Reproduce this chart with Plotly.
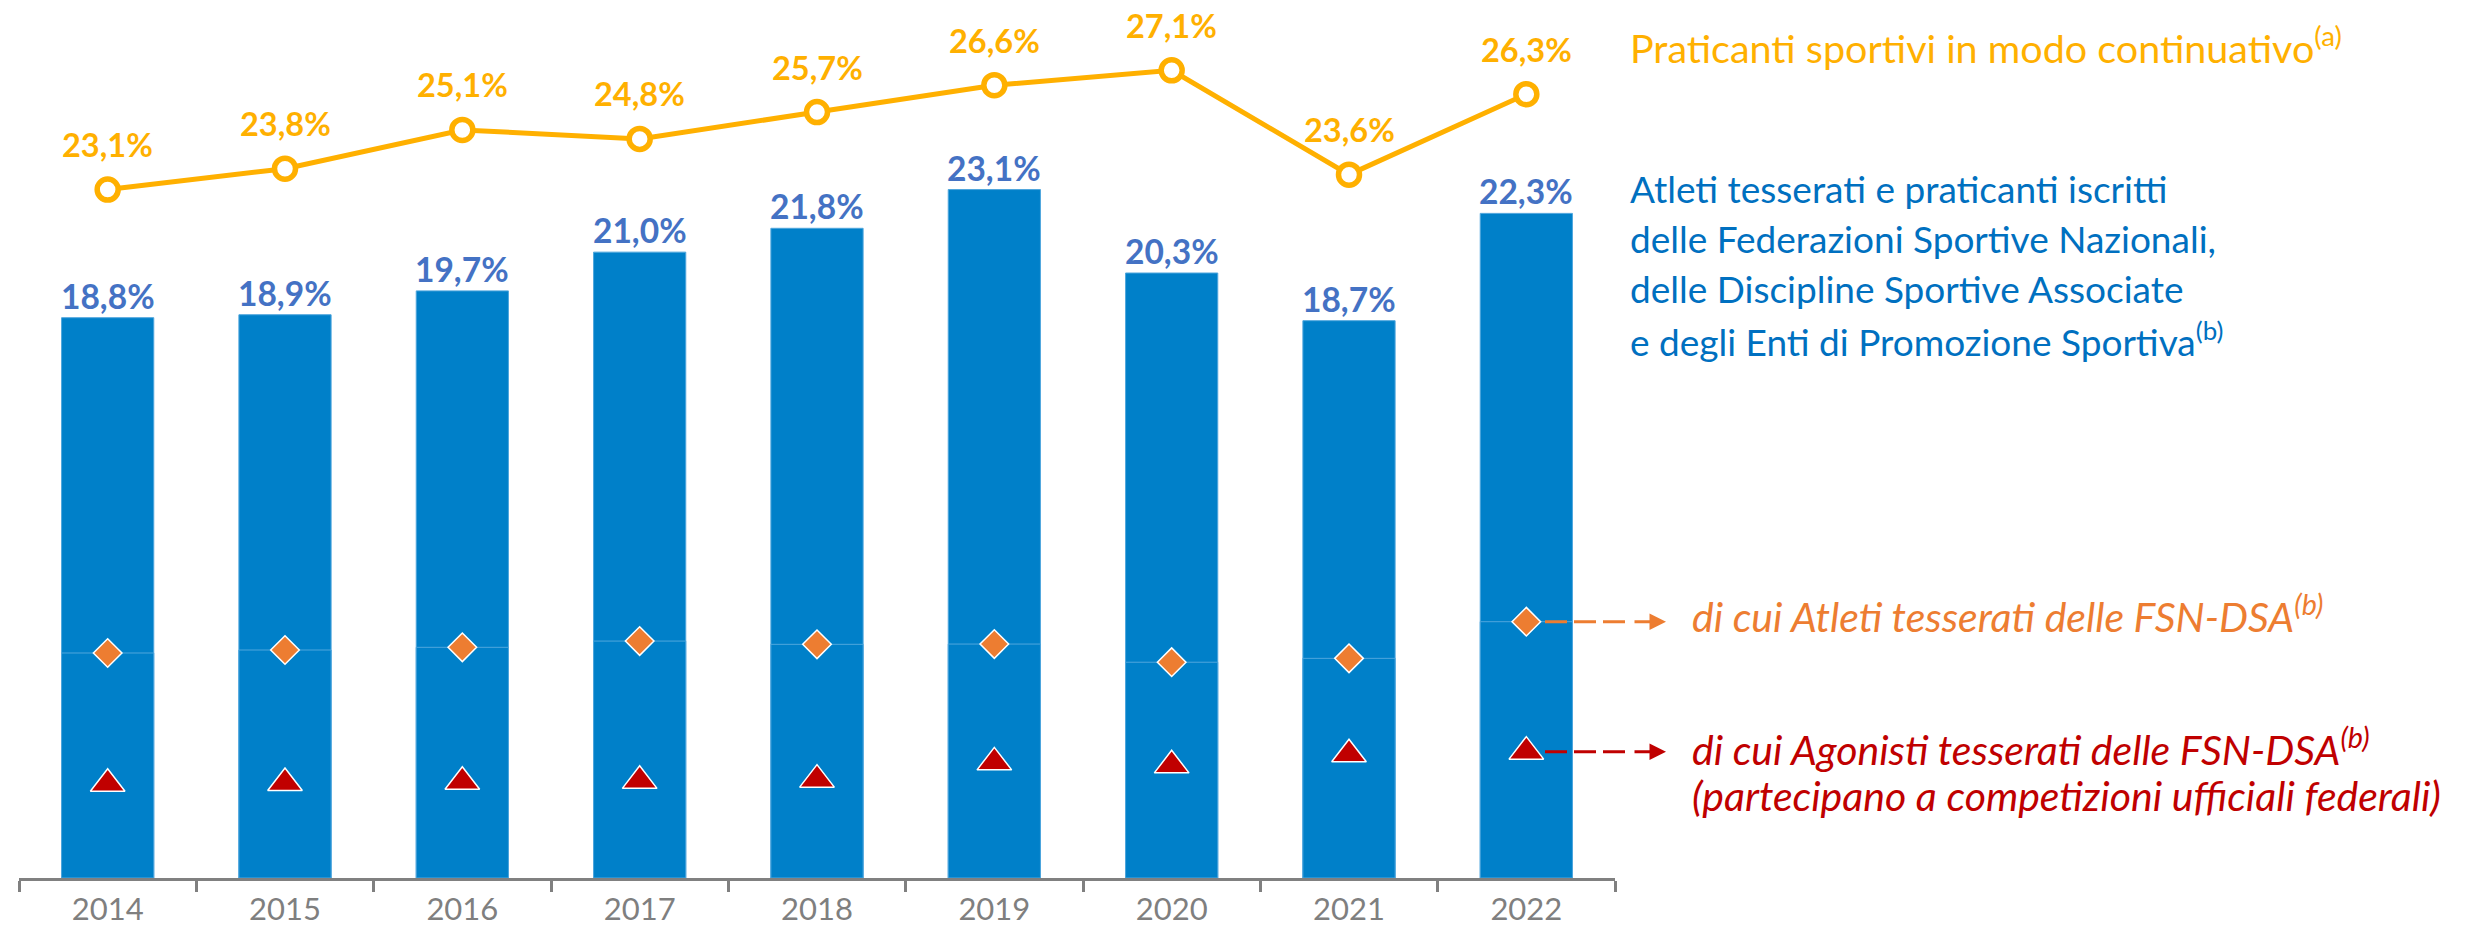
import plotly.graph_objects as go

# ---- data (percent values) ----
years = ["2014", "2015", "2016", "2017", "2018", "2019", "2020", "2021", "2022"]
praticanti_continuativi = [23.1, 23.8, 25.1, 24.8, 25.7, 26.6, 27.1, 23.6, 26.3]
tesserati_totali = [18.8, 18.9, 19.7, 21.0, 21.8, 23.1, 20.3, 18.7, 22.3]
atleti_fsn_dsa = [7.55, 7.65, 7.74, 7.95, 7.84, 7.85, 7.24, 7.37, 8.60]
agonisti_fsn_dsa = [3.16, 3.19, 3.23, 3.26, 3.30, 3.88, 3.78, 4.15, 4.24]

# ---- page geometry ----
W, H = 2468, 929
M_L, M_R, M_T, M_B = 19, 853, 0, 51
PLOT_W = W - M_L - M_R
PLOT_H = H - M_T - M_B
Y_MAX = 29.46

# ---- palette ----
BAR = "#0080C9"
BAR_EDGE = "#4FA6DD"
GOLD = "#FFB000"
BAR_LABEL = "#4472C4"
LEGEND_BLUE = "#0070C0"
ORANGE = "#ED7D31"
RED = "#C00000"
GREY = "#808080"
FONT = "Lato"


def px_x(p):
    """Horizontal page pixel -> paper fraction."""
    return (p - M_L) / PLOT_W


def px_y(p):
    """Vertical page pixel -> paper fraction."""
    return (M_T + PLOT_H - p) / PLOT_H


def pct(v):
    return f"{v:.1f}".replace(".", ",") + "%"


fig = go.Figure()

# total bars, with the FSN-DSA share overlaid in the same colour
for values in (tesserati_totali, atleti_fsn_dsa):
    fig.add_trace(go.Bar(
        x=years, y=values,
        marker=dict(color=BAR, line=dict(color=BAR_EDGE, width=1)),
        hoverinfo="skip",
    ))

# continuous practitioners line
fig.add_trace(go.Scatter(
    x=years, y=praticanti_continuativi, mode="lines+markers",
    line=dict(color=GOLD, width=5),
    marker=dict(symbol="circle", size=21, color="white",
                line=dict(color=GOLD, width=5.5)),
    hoverinfo="skip",
))

# FSN-DSA athletes
fig.add_trace(go.Scatter(
    x=years, y=atleti_fsn_dsa, mode="markers",
    marker=dict(symbol="diamond", size=22, color=ORANGE,
                line=dict(color="white", width=1.5)),
    hoverinfo="skip",
))

# FSN-DSA competitive athletes
fig.add_trace(go.Scatter(
    x=years, y=agonisti_fsn_dsa, mode="markers",
    marker=dict(symbol="triangle-up", size=30, color=RED,
                line=dict(color="white", width=1.5)),
    hoverinfo="skip",
))

annotations = []

# value labels (category axis: x given as the category index)
for i, v in enumerate(praticanti_continuativi):
    annotations.append(dict(
        x=i, y=v, xref="x", yref="y", text=pct(v), showarrow=False,
        yanchor="middle", yshift=45,
        font=dict(family=FONT, size=32.5, color=GOLD, weight="bold"),
    ))
for i, v in enumerate(tesserati_totali):
    annotations.append(dict(
        x=i, y=v, xref="x", yref="y", text=pct(v), showarrow=False,
        yanchor="middle", yshift=22,
        font=dict(family=FONT, size=33.5, color=BAR_LABEL, weight="bold"),
    ))


def text_line(text, left, baseline, size, color, italic=False):
    """One line of descriptive text placed by its left edge and baseline."""
    font = dict(family=FONT, size=size, color=color)
    if italic:
        font["style"] = "italic"
    return dict(
        x=px_x(left), y=px_y(baseline - 0.387 * size),
        xref="paper", yref="paper", xanchor="left", yanchor="middle",
        showarrow=False, align="left", text=text, font=font,
    )


# series descriptions on the right
annotations.append(text_line(
    "Praticanti sportivi in modo continuativo<sup>(a)</sup>",
    1628, 60, 39.5, GOLD))

blue_lines = [
    "Atleti tesserati e praticanti iscritti",
    "delle Federazioni Sportive Nazionali,",
    "delle Discipline Sportive Associate",
    "e degli Enti di Promozione Sportiva<sup>(b)</sup>",
]
for k, line in enumerate(blue_lines):
    annotations.append(text_line(line, 1628, 203.3 + 50 * k, 37, LEGEND_BLUE))

annotations.append(text_line(
    "di cui Atleti tesserati delle FSN-DSA<sup>(b)</sup>",
    1690, 630, 41, ORANGE, italic=True))

red_lines = [
    "di cui Agonisti tesserati delle FSN-DSA<sup>(b)</sup>",
    "(partecipano a competizioni ufficiali federali)",
]
for k, line in enumerate(red_lines):
    annotations.append(text_line(line, 1690, 763.3 + 48.4 * k, 41, RED,
                                 italic=True))

# dashed pointers from the last markers to their descriptions
shapes = []
for series, col in ((atleti_fsn_dsa, ORANGE), (agonisti_fsn_dsa, RED)):
    shapes.append(dict(
        type="line", xref="paper", yref="y",
        x0=px_x(1545), x1=px_x(1626), y0=series[-1], y1=series[-1],
        line=dict(color=col, width=3, dash="22px,7px"),
    ))
    annotations.append(dict(
        x=px_x(1666), y=series[-1], xref="paper", yref="y",
        ax=-33, ay=0, showarrow=True, text="",
        arrowhead=2, arrowsize=1.1, arrowwidth=3, arrowcolor=col,
    ))

fig.update_layout(
    width=W, height=H,
    margin=dict(l=M_L, r=M_R, t=M_T, b=M_B, pad=0, autoexpand=False),
    paper_bgcolor="white", plot_bgcolor="white",
    barmode="overlay", bargap=0.48,
    showlegend=False,
    font=dict(family=FONT),
    annotations=annotations,
    shapes=shapes,
    xaxis=dict(
        type="category", range=[-0.5, len(years) - 0.5], automargin=False,
        showline=True, linecolor=GREY, linewidth=2.5,
        ticks="outside", tickson="boundaries", ticklen=11,
        tickwidth=2.5, tickcolor=GREY, ticklabelstandoff=2,
        tickfont=dict(family=FONT, size=31, color="#7F7F7F"),
        showgrid=False, zeroline=False, fixedrange=True,
    ),
    yaxis=dict(visible=False, range=[0, Y_MAX], showgrid=False,
               zeroline=False, fixedrange=True, automargin=False),
)

fig.write_html("out.html")
